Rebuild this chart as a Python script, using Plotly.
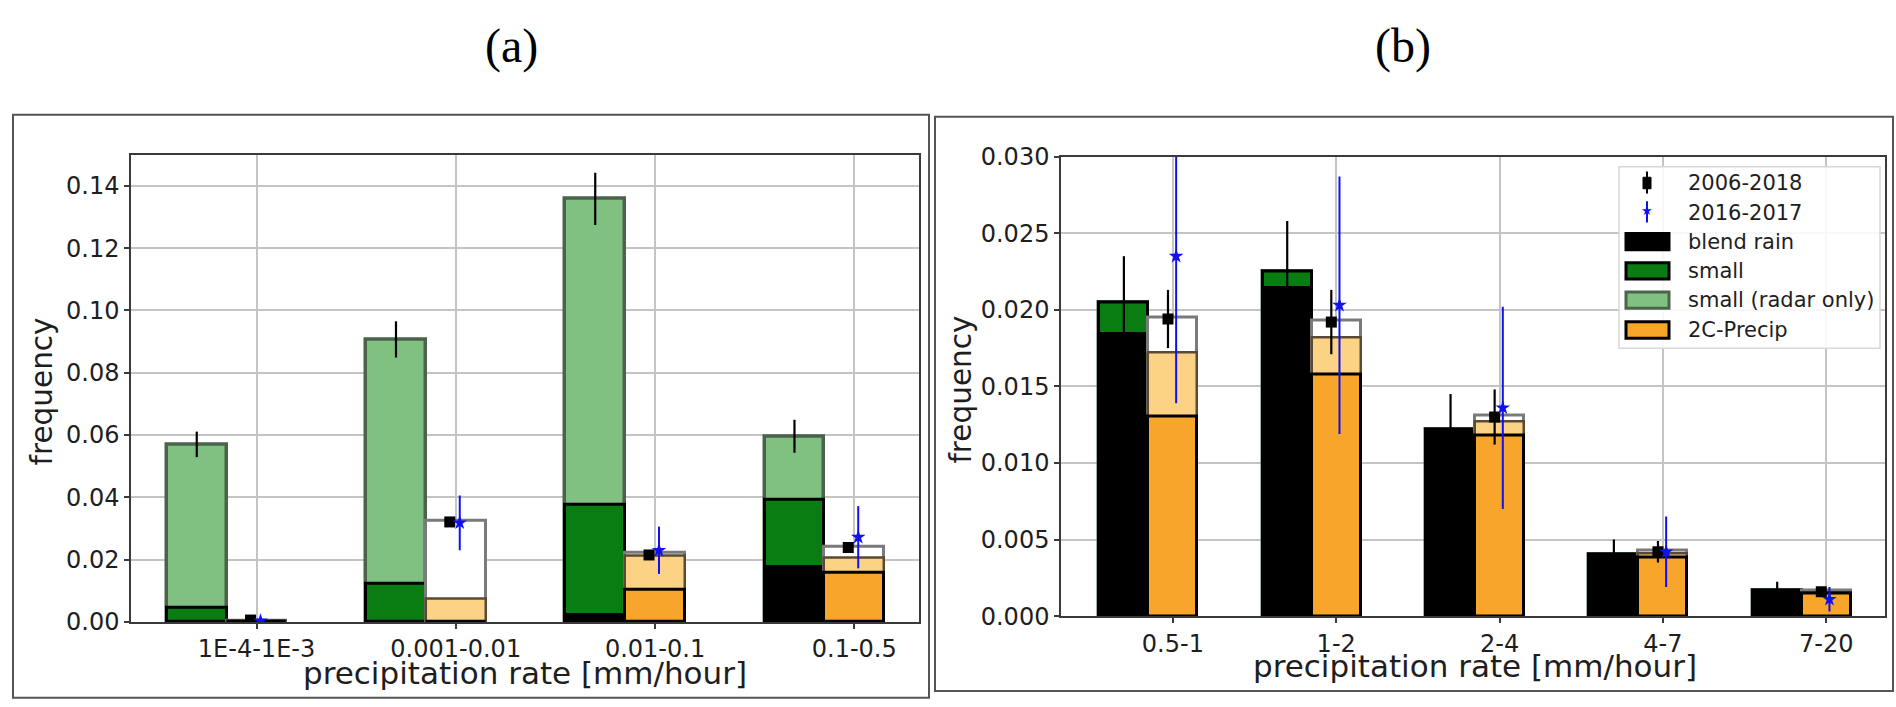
import numpy as np
import plotly.graph_objects as go

W, H = 1896, 707

# ---------------- data: panel (a) ----------------
cats_a = ["1E-4-1E-3", "0.001-0.01", "0.01-0.1", "0.1-0.5"]
a_radar_only = [0.0570, 0.0907, 0.1358, 0.0596]
a_radar_only_err = [0.0041, 0.0058, 0.0084, 0.0053]
a_small = [0.0045, 0.0124, 0.0376, 0.0394]
a_blend = [0.0, 0.0, 0.0030, 0.0184]
a_2c_total = [0.0004, 0.0324, 0.0221, 0.0240]
a_2c_light = [0.0003, 0.0075, 0.0212, 0.0206]
a_2c = [0.0002, 0.0, 0.0105, 0.0158]
a_0618 = [0.0006, 0.0321, 0.0215, 0.0239]
a_0618_err = [0.0004, 0.0015, 0.0010, 0.0012]
a_1617 = [0.0003, 0.0318, 0.0230, 0.0272]
a_1617_err = [0.0003, 0.0088, 0.0076, 0.0100]

# ---------------- data: panel (b) ----------------
cats_b = ["0.5-1", "1-2", "2-4", "4-7", "7-20"]
b_radar_only = [0.0205, 0.0225, 0.0122, 0.0040, 0.00165]
b_small = [0.0205, 0.0225, 0.0122, 0.0040, 0.00165]
b_small_err = [0.0030, 0.0033, 0.0023, 0.0010, 0.0006]
b_blend = [0.0186, 0.0216, 0.0122, 0.0040, 0.00165]
b_2c_total = [0.0195, 0.0193, 0.0131, 0.0043, 0.00165]
b_2c_light = [0.0172, 0.0182, 0.0127, 0.0041, 0.00155]
b_2c = [0.0130, 0.0158, 0.0118, 0.0038, 0.00149]
b_0618 = [0.0194, 0.0192, 0.0130, 0.0042, 0.0016]
b_0618_err = [0.0019, 0.0021, 0.0018, 0.0007, 0.0003]
b_1617 = [0.0235, 0.0203, 0.0136, 0.0042, 0.0011]
b_1617_err = [0.0096, 0.0084, 0.0066, 0.0023, 0.0008]

legend_labels = ["2006-2018", "2016-2017", "blend rain", "small",
                 "small (radar only)", "2C-Precip"]

# ---------------- styles ----------------
C_LGREEN = "#80C080"
C_LGREEN_EDGE = "#4A634A"
C_GREEN = "#0A7D12"
C_ORANGE = "#F8A52C"
C_LORANGE = "#FCD285"
C_LORANGE_EDGE = "#5A4A35"
C_GREY_EDGE = "#7A7A7A"
C_BLUE = "#1010F0"
GRID = "#C4C4C4"
AXC = "#3A3A3A"
TXT = "#1E1E1E"
TICKFONT = dict(family="DejaVu Sans", size=24, color=TXT)
XTITLEFONT = dict(family="DejaVu Sans", size=31, color=TXT)
YTITLEFONT = dict(family="DejaVu Sans", size=29.5, color=TXT)

LEFT_OFF, RIGHT_OFF, BW = -0.3, 0.0, 0.3
BLK_OFF, BLU_OFF = -0.03, 0.02

fig = go.Figure()


def panel(xa, ya, cats, radar, radar_err, small, blend, tot, light, c2, v0618, e0618, v1617, e1617):
    idx = np.arange(len(cats))
    xl = idx + LEFT_OFF
    xr = idx + RIGHT_OFF
    common = dict(xaxis=xa, yaxis=ya, width=BW, showlegend=False, hoverinfo="skip")
    fig.add_trace(go.Bar(x=xl, y=radar, marker=dict(color=C_LGREEN, line=dict(color=C_LGREEN_EDGE, width=3.5)), **common))
    fig.add_trace(go.Bar(x=xl, y=small, marker=dict(color=C_GREEN, line=dict(color="black", width=3)), **common))
    fig.add_trace(go.Bar(x=xl, y=blend, marker=dict(color="black", line=dict(color="black", width=0)), **common))
    fig.add_trace(go.Bar(x=xr, y=tot, marker=dict(color="white", line=dict(color=C_GREY_EDGE, width=3)), **common))
    fig.add_trace(go.Bar(x=xr, y=light, marker=dict(color=C_LORANGE, line=dict(color=C_LORANGE_EDGE, width=2.5)), **common))
    fig.add_trace(go.Bar(x=xr, y=c2, marker=dict(color=C_ORANGE, line=dict(color="black", width=3)), **common))
    fig.add_trace(go.Scatter(x=xl, y=radar, mode="markers", marker=dict(size=1, opacity=0),
                             error_y=dict(type="data", array=radar_err, color="black", thickness=2.2, width=0),
                             xaxis=xa, yaxis=ya, showlegend=False, hoverinfo="skip"))
    fig.add_trace(go.Scatter(x=idx + BLK_OFF, y=v0618, mode="markers",
                             marker=dict(symbol="square", size=11, color="black"),
                             error_y=dict(type="data", array=e0618, color="black", thickness=2.2, width=0),
                             xaxis=xa, yaxis=ya, showlegend=False, hoverinfo="skip"))
    fig.add_trace(go.Scatter(x=idx + BLU_OFF, y=v1617, mode="markers",
                             marker=dict(symbol="star", size=11, color=C_BLUE),
                             error_y=dict(type="data", array=e1617, color=C_BLUE, thickness=2, width=0),
                             xaxis=xa, yaxis=ya, showlegend=False, hoverinfo="skip"))


panel("x", "y", cats_a, a_radar_only, a_radar_only_err, a_small, a_blend, a_2c_total, a_2c_light, a_2c,
      a_0618, a_0618_err, a_1617, a_1617_err)
panel("x2", "y2", cats_b, b_radar_only, b_small_err, b_small, b_blend, b_2c_total, b_2c_light, b_2c,
      b_0618, b_0618_err, b_1617, b_1617_err)


def px(x):
    return x / W


def py(y):
    return 1 - y / H


axis_common = dict(showline=True, mirror=True, linecolor=AXC, linewidth=1.5,
                   ticks="outside", ticklen=5, tickwidth=1.5, tickcolor=AXC,
                   showgrid=True, gridcolor=GRID, gridwidth=1.6, zeroline=False,
                   tickfont=TICKFONT)

fig.update_layout(
    width=W, height=H, margin=dict(l=0, r=0, t=0, b=0),
    paper_bgcolor="white", plot_bgcolor="rgba(0,0,0,0)", barmode="overlay", bargap=0,
    xaxis=dict(domain=[px(131), px(919)], anchor="y", range=[-0.63, 3.325],
               tickmode="array", tickvals=list(range(len(cats_a))), ticktext=cats_a, **axis_common),
    yaxis=dict(domain=[py(633), py(146.5)], anchor="x", range=[0, 0.15],
               tickmode="linear", tick0=0, dtick=0.02, tickformat=".2f", **axis_common),
    xaxis2=dict(domain=[px(1061), px(1885)], anchor="y2", range=[-0.685, 4.36],
                tickmode="array", tickvals=list(range(len(cats_b))), ticktext=cats_b, **axis_common),
    yaxis2=dict(domain=[py(627), py(148.5)], anchor="x2", range=[0, 0.030],
                tickmode="linear", tick0=0, dtick=0.005, tickformat=".3f", **axis_common),
)

shapes = []
# panel frames
shapes.append(dict(type="rect", xref="paper", yref="paper", x0=px(13), x1=px(929), y0=py(712), y1=py(105),
                   line=dict(color="#555555", width=2), fillcolor="rgba(0,0,0,0)", layer="below"))
shapes.append(dict(type="rect", xref="paper", yref="paper", x0=px(935), x1=px(1893), y0=py(705), y1=py(107),
                   line=dict(color="#555555", width=2), fillcolor="rgba(0,0,0,0)", layer="below"))
# legend frame
shapes.append(dict(type="rect", xref="paper", yref="paper", x0=px(1619), x1=px(1880), y0=py(348), y1=py(159),
                   line=dict(color="#D8D8D8", width=1.5), fillcolor="rgba(255,255,255,0.88)", layer="above"))
# legend glyphs: error-bar markers
shapes.append(dict(type="line", xref="paper", yref="paper", x0=px(1647), x1=px(1647), y0=py(187), y1=py(164),
                   line=dict(color="black", width=2), layer="above"))
shapes.append(dict(type="rect", xref="paper", yref="paper", x0=px(1643), x1=px(1651), y0=py(182), y1=py(170),
                   line=dict(color="black", width=1), fillcolor="black", layer="above"))
shapes.append(dict(type="line", xref="paper", yref="paper", x0=px(1647), x1=px(1647), y0=py(217), y1=py(195),
                   line=dict(color=C_BLUE, width=2), layer="above"))
# legend glyphs: bar patches
patch_style = [
    ("black", "black"),
    (C_GREEN, "black"),
    (C_LGREEN, C_LGREEN_EDGE),
    (C_ORANGE, "black"),
]
patch_y = [237, 267.5, 298, 329]
for (fc, ec), yc in zip(patch_style, patch_y):
    shapes.append(dict(type="rect", xref="paper", yref="paper", x0=px(1626), x1=px(1669),
                       y0=py(yc + 8.5), y1=py(yc - 8.5),
                       line=dict(color=ec, width=3), fillcolor=fc, layer="above"))
fig.update_layout(shapes=shapes)

ann = []
ann.append(dict(text="★", xref="paper", yref="paper", x=px(1647), y=py(205), xanchor="center",
                yanchor="middle", showarrow=False, font=dict(family="DejaVu Sans", size=13, color=C_BLUE)))
leg_y = [176, 207, 237, 267.5, 298, 329]
for lab, yc in zip(legend_labels, leg_y):
    ann.append(dict(text=lab, xref="paper", yref="paper", x=px(1686), y=py(yc), xanchor="left",
                    yanchor="middle", showarrow=False, font=dict(family="DejaVu Sans", size=21, color=TXT)))
# panel titles
ann.append(dict(text="(a)", xref="paper", yref="paper", x=px(511), y=py(33), xanchor="center", yanchor="middle",
                showarrow=False, font=dict(family="Liberation Serif", size=48, color="black")))
ann.append(dict(text="(b)", xref="paper", yref="paper", x=px(1403), y=py(33), xanchor="center", yanchor="middle",
                showarrow=False, font=dict(family="Liberation Serif", size=48, color="black")))
# axis titles
ann.append(dict(text="frequency", xref="paper", yref="paper", x=px(42), y=py(393), textangle=-90,
                xanchor="center", yanchor="middle", showarrow=False, font=YTITLEFONT))
ann.append(dict(text="frequency", xref="paper", yref="paper", x=px(961), y=py(391), textangle=-90,
                xanchor="center", yanchor="middle", showarrow=False, font=YTITLEFONT))
ann.append(dict(text="precipitation rate [mm/hour]", xref="paper", yref="paper", x=px(525), y=py(686),
                xanchor="center", yanchor="middle", showarrow=False, font=XTITLEFONT))
ann.append(dict(text="precipitation rate [mm/hour]", xref="paper", yref="paper", x=px(1475), y=py(679),
                xanchor="center", yanchor="middle", showarrow=False, font=XTITLEFONT))
fig.update_layout(annotations=ann)

fig.write_html("out.html")
